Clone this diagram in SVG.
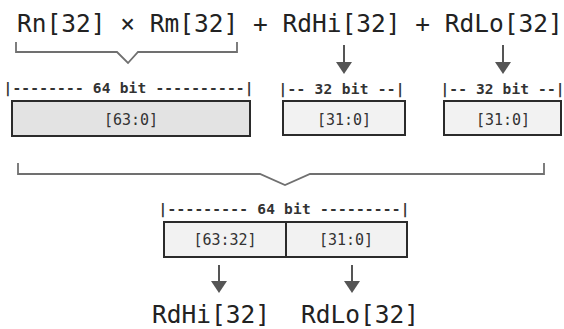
<svg xmlns="http://www.w3.org/2000/svg" width="564" height="329" viewBox="0 0 564 329">
<defs>
<style>
.big{font-family:"DejaVu Sans Mono","Liberation Mono",monospace;font-size:24.5px;fill:#222}
.lbl{font-family:"DejaVu Sans Mono","Liberation Mono",monospace;font-size:14.5px;font-weight:bold;fill:#333}
.cell{font-family:"DejaVu Sans Mono","Liberation Mono",monospace;font-size:15px;fill:#333;text-anchor:middle}
.box{stroke:#2b2b2b;stroke-width:2;fill:#f2f2f2}
.dark{fill:#e3e3e3}
.br{fill:none;stroke:#707070;stroke-width:1.8}
.ar{stroke:#555;stroke-width:2;fill:none}
.ah{fill:#555}
</style>
</defs>
<rect width="564" height="329" fill="#fff"/>
<g id="formula">
<text class="big" x="17" y="32">Rn[32] × Rm[32] + RdHi[32] + RdLo[32]</text>
</g>
<g id="product64">
<text class="lbl" x="3.5" y="93" textLength="250" lengthAdjust="spacing">|-------- 64 bit ----------|</text>
<rect class="box dark" x="12" y="101" width="238" height="35"/>
<text class="cell" x="131" y="125">[63:0]</text>
</g>
<g id="rdhi32">
<text class="lbl" x="278.5" y="94" textLength="126" lengthAdjust="spacing">|-- 32 bit --|</text>
<rect class="box" x="283" y="101" width="122" height="34"/>
<text class="cell" x="344" y="125">[31:0]</text>
</g>
<g id="rdlo32">
<text class="lbl" x="440.5" y="94" textLength="124" lengthAdjust="spacing">|-- 32 bit --|</text>
<rect class="box" x="444" y="101" width="117" height="34"/>
<text class="cell" x="503" y="125">[31:0]</text>
</g>
<g id="result64">
<text class="lbl" x="158.5" y="214" textLength="251" lengthAdjust="spacing">|--------- 64 bit ---------|</text>
<rect class="box" x="164" y="222" width="122" height="35"/>
<rect class="box" x="286" y="222" width="121" height="35"/>
<text class="cell" x="225" y="245">[63:32]</text>
<text class="cell" x="346" y="245">[31:0]</text>
</g>
<g id="outHi">
<text class="big" x="152" y="323">RdHi[32]</text>
</g>
<g id="outLo">
<text class="big" x="301" y="323">RdLo[32]</text>
</g>
<g id="connectors">
<path class="br" d="M16,42 V52 H117 L128,63 L138,52 H237 V42"/>
<path class="br" d="M18,163 V174 H260 L285,185 L310,174 H544 V163"/>
<line class="ar" x1="344" y1="45" x2="344" y2="66"/>
<path class="ah" d="M336,62 L352,62 L344,74 Z"/>
<line class="ar" x1="503" y1="45" x2="503" y2="66"/>
<path class="ah" d="M495,62 L511,62 L503,74 Z"/>
<line class="ar" x1="219" y1="265" x2="219" y2="285"/>
<path class="ah" d="M211,281 L227,281 L219,293 Z"/>
<line class="ar" x1="352" y1="265" x2="352" y2="285"/>
<path class="ah" d="M344,281 L360,281 L352,293 Z"/>
</g>
</svg>
